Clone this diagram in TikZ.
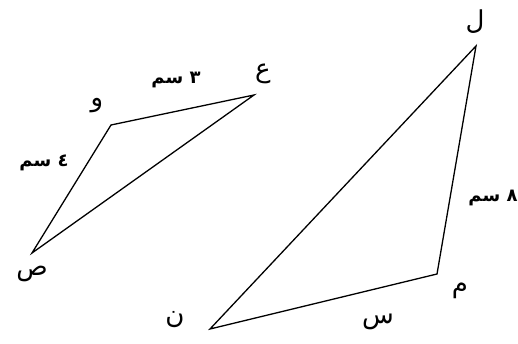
\documentclass[tikz,border=0pt]{standalone}
\usepackage{fontspec}
\TeXXeTstate=1
\newfontfamily\arabicfont[Script=Arabic]{DejaVu Sans}
\tikzset{
  side/.style={line width=1.3pt, line join=miter},
  lbl/.style={font=\arabicfont\bfseries\fontsize{18}{22}\selectfont, inner sep=0pt},
  vtx/.style={font=\arabicfont\fontsize{26}{30}\selectfont, inner sep=0pt},
}
\newcommand{\ar}[1]{\beginR #1\endR}
\begin{document}
\begin{tikzpicture}[x=1pt,y=-1pt]
\useasboundingbox (0,0) rectangle (518,344);
% left triangle
\coordinate (W) at (111,125);
\coordinate (A) at (254,95);
\coordinate (S) at (32,253);
\draw[side] (W) -- (A) -- (S) -- cycle;
% right triangle
\coordinate (L) at (476,46);
\coordinate (M) at (437,274);
\coordinate (N) at (210,329);
\draw[side] (L) -- (M) -- (N) -- cycle;
% labels
\node[vtx] (lA) at (263,74) {\ar{ع}};
\node[vtx] (lW) at (97,106) {\ar{و}};
\node[lbl] (lWA) at (176,80) {\ar{٣ سم}};
\node[lbl] (lSW) at (44,163) {\ar{٤ سم}};
\node[vtx] (lS) at (32,274) {\ar{ص}};
\node[vtx] (lL) at (475,22) {\ar{ل}};
\node[lbl] (lLM) at (493,198) {\ar{٨ سم}};
\node[vtx] (lM) at (460,291) {\ar{م}};
\node[vtx] (lN) at (175,320) {\ar{ن}};
\node[vtx] (lNM) at (378,322) {\ar{س}};
\end{tikzpicture}
\end{document}
